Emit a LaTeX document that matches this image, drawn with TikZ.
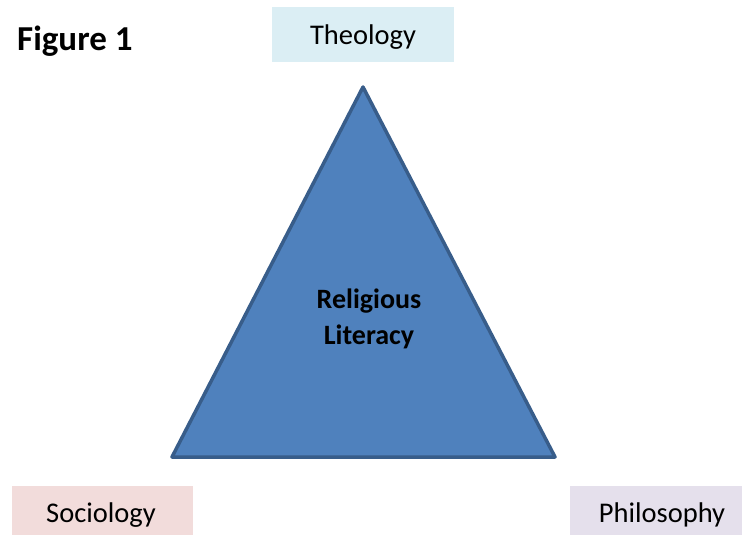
\documentclass[tikz,border=0pt]{standalone}
\usepackage{fontspec}
\setmainfont{Carlito}
\usepackage{xcolor}
\usepackage{tikz}

\definecolor{litfill}{HTML}{4F81BD}
\definecolor{litedge}{HTML}{385D8A}
\definecolor{theofill}{HTML}{DBEEF4}
\definecolor{sociofill}{HTML}{F2DCDB}
\definecolor{philofill}{HTML}{E5E0EC}

\begin{document}
\begin{tikzpicture}%
                    [x=1pt, y=-1pt,
                    field/.style={inner sep=0pt, font=\fontsize{28.5}{32}\selectfont},
                    title/.style={anchor=base west, inner sep=0pt, font=\fontsize{35}{40}\selectfont\bfseries},
                    centre/.style={align=center, inner sep=0pt, font=\fontsize{28}{36}\selectfont\bfseries},
                    triangle/.style={fill=litfill, draw=litedge, line width=3.5pt, line join=round}]

                \useasboundingbox (0,0) rectangle (742,535);
                %% Boxes for the three disciplines
                \fill[theofill] (272,7) rectangle (454,62);
                \fill[sociofill] (12,486) rectangle (193,535);
                \fill[philofill] (570,486) rectangle (742,535);
                \node[field] (theo) at (363,37) {Theology};
                \node[field] (socio) at (101,515) {Sociology};
                \node[field] (philo) at (662,515) {Philosophy};
                %% Caption
                \node[title] (fig) at (17,51) {Figure 1};
                %%
                %% Drawing the triangle
                %%
                \coordinate (top) at (363,87);
                \coordinate (left) at (172,457);
                \coordinate (right) at (555,457);
                \draw[triangle] (top) -- (right) -- (left) -- cycle;
                \node[centre] (lit) at (369,319) {Religious\\Literacy};
                %%
                \end{tikzpicture}
\end{document}
